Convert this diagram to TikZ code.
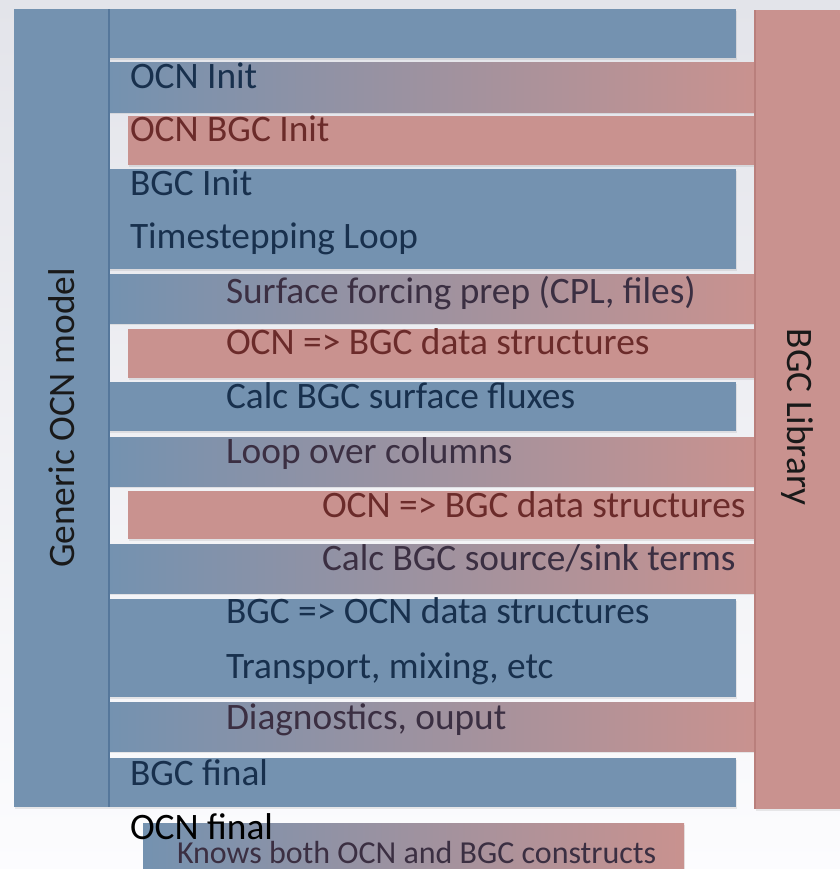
\documentclass[tikz,border=0pt]{standalone}
\usepackage{fontspec}
\setmainfont{Carlito}
\usetikzlibrary{shadows}
\definecolor{bgtop}{HTML}{E3E4EA}
\definecolor{bgbot}{HTML}{FCFCFE}
\definecolor{bandblue}{HTML}{7492B0}
\definecolor{bandred}{HTML}{C9928F}
\definecolor{blueline}{HTML}{55779B}
\definecolor{redline}{HTML}{B97F7C}
\definecolor{navytxt}{HTML}{18304D}
\definecolor{maroontxt}{HTML}{6B2B2A}
\definecolor{mixtxt}{HTML}{3B2F42}
\begin{document}
\begin{tikzpicture}[x=0.75pt,y=-0.75pt,
  every node/.style={inner sep=0pt,outer sep=0pt},
  bandsh/.style={drop shadow={shadow xshift=0.6pt,shadow yshift=-1.6pt,opacity=0.16}},
  bluebar/.style={bandsh,fill=bandblue},
  redbar/.style={bandsh,fill=bandred},
  mixbar/.style={bandsh,left color=bandblue,right color=bandred},
  lbl/.style={anchor=base west,font=\fontsize{28}{33}\selectfont},
  onblue/.style={lbl,text=navytxt},
  onred/.style={lbl,text=maroontxt},
  onmix/.style={lbl,text=mixtxt},
  sidetxt/.style={font=\fontsize{28}{33}\selectfont,text=black!90}]
% background
\shade[top color=bgtop,bottom color=bgbot] (0,0) rectangle (840,869);
\useasboundingbox (0,0) rectangle (840,869);
% side columns
\path[bluebar] (14,9) rectangle (109,807);
\path[redbar] (755,10) rectangle (840,809);
% bands
\path[bluebar] (109,9) rectangle (736,58);
\path[mixbar] (109,62) rectangle (755,112);
\path[redbar] (128,116) rectangle (755,165);
\path[bluebar] (109,169) rectangle (736,269);
\path[mixbar] (109,274) rectangle (755,323);
\path[redbar] (128,329) rectangle (755,378);
\path[bluebar] (109,382) rectangle (736,431);
\path[mixbar] (109,437) rectangle (755,486);
\path[redbar] (128,491) rectangle (755,539);
\path[mixbar] (109,544) rectangle (755,593);
\path[bluebar] (109,599) rectangle (736,697);
\path[mixbar] (109,702) rectangle (755,751);
\path[bluebar] (109,758) rectangle (736,807);
\path[mixbar] (143,823) rectangle (684,875);
% edge lines
\draw[blueline,line width=0.8pt] (109,9) -- (109,807);
\draw[redline,line width=0.8pt] (755,10) -- (755,809);
% side labels
\node[sidetxt,rotate=90] (gen) at (62,418) {Generic OCN model};
\node[sidetxt,rotate=-90] (lib) at (797,417) {BGC Library};
% labels
\node[onblue] (t1) at (130,88) {OCN Init};
\node[onred] (t2) at (130,141) {OCN BGC Init};
\node[onblue] (t3) at (130,195) {BGC Init};
\node[onblue] (t4) at (130,248) {Timestepping Loop};
\node[onmix] (t5) at (226,303) {Surface forcing prep (CPL, files)};
\node[onred] (t6) at (226,354) {OCN => BGC data structures};
\node[onblue] (t7) at (226,408) {Calc BGC surface fluxes};
\node[onmix] (t8) at (226,463) {Loop over columns};
\node[onred] (t9) at (322,517) {OCN => BGC data structures};
\node[onmix] (t10) at (322,570) {Calc BGC source/sink terms};
\node[onblue] (t11) at (226,623) {BGC => OCN data structures};
\node[onblue] (t12) at (226,678) {Transport, mixing, etc};
\node[onmix] (t13) at (226,729) {Diagnostics, ouput};
\node[onblue] (t14) at (130,785) {BGC final};
\node[onmix,font=\fontsize{24}{28}\selectfont] (leg) at (177,863) {Knows both OCN and BGC constructs};
\node[lbl,text=black] (t15) at (130,839) {OCN final};
\end{tikzpicture}
\end{document}
